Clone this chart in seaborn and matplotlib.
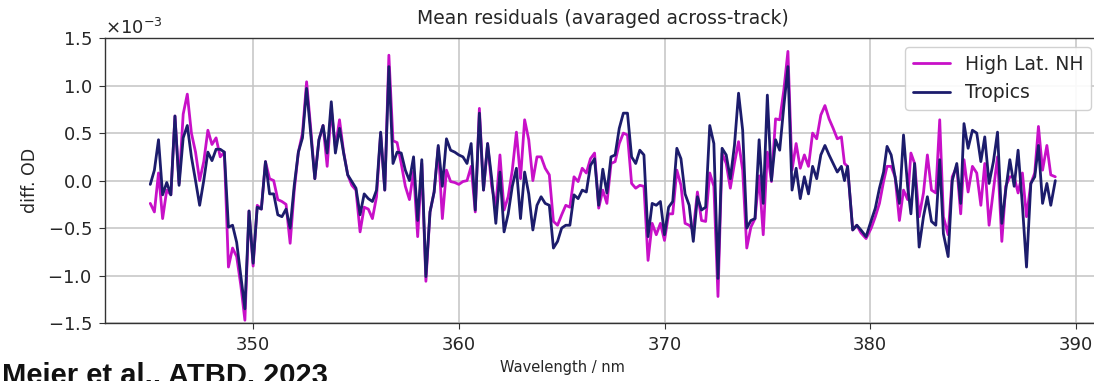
import numpy as np
import pandas as pd
import matplotlib
matplotlib.use("Agg")
import matplotlib.pyplot as plt
import seaborn as sns

# ---------------- data (values in units of 1e-3) ----------------
wavelength = [
    345.0, 345.2, 345.4, 345.6, 345.8, 346.0, 346.2, 346.4, 346.6, 346.8,
    347.0, 347.2, 347.4, 347.6, 347.8, 348.0, 348.2, 348.4, 348.6, 348.8,
    349.0, 349.2, 349.4, 349.6, 349.8, 350.0, 350.2, 350.4, 350.6, 350.8,
    351.0, 351.2, 351.4, 351.6, 351.8, 352.0, 352.2, 352.4, 352.6, 352.8,
    353.0, 353.2, 353.4, 353.6, 353.8, 354.0, 354.2, 354.4, 354.6, 354.8,
    355.0, 355.2, 355.4, 355.6, 355.8, 356.0, 356.2, 356.4, 356.6, 356.8,
    357.0, 357.2, 357.4, 357.6, 357.8, 358.0, 358.2, 358.4, 358.6, 358.8,
    359.0, 359.2, 359.4, 359.6, 359.8, 360.0, 360.2, 360.4, 360.6, 360.8,
    361.0, 361.2, 361.4, 361.6, 361.8, 362.0, 362.2, 362.4, 362.6, 362.8,
    363.0, 363.2, 363.4, 363.6, 363.8, 364.0, 364.2, 364.4, 364.6, 364.8,
    365.0, 365.2, 365.4, 365.6, 365.8, 366.0, 366.2, 366.4, 366.6, 366.8,
    367.0, 367.2, 367.4, 367.6, 367.8, 368.0, 368.2, 368.4, 368.6, 368.8,
    369.0, 369.2, 369.4, 369.6, 369.8, 370.0, 370.2, 370.4, 370.6, 370.8,
    371.0, 371.2, 371.4, 371.6, 371.8, 372.0, 372.2, 372.4, 372.6, 372.8,
    373.0, 373.2, 373.4, 373.6, 373.8, 374.0, 374.2, 374.4, 374.6, 374.8,
    375.0, 375.2, 375.4, 375.6, 375.8, 376.0, 376.2, 376.4, 376.6, 376.8,
    377.0, 377.2, 377.4, 377.6, 377.8, 378.0, 378.2, 378.4, 378.6, 378.75,
    378.9, 379.15, 379.35, 379.55, 379.8, 380.05, 380.25, 380.45, 380.65, 380.82,
    381.02, 381.21, 381.42, 381.62, 381.82, 381.98, 382.16, 382.38, 382.59, 382.78,
    382.98, 383.19, 383.38, 383.56, 383.79, 383.99, 384.21, 384.4, 384.56, 384.76,
    384.97, 385.18, 385.38, 385.57, 385.78, 385.99, 386.19, 386.4, 386.59, 386.79,
    387.0, 387.19, 387.4, 387.6, 387.81, 388.0, 388.18, 388.38, 388.59, 388.78,
    389.0,
]

tropics = [
    -0.04, 0.11, 0.43, -0.15, -0.02, -0.15, 0.68, -0.05, 0.45, 0.58,
    0.25, 0.00, -0.26, 0.00, 0.30, 0.21, 0.33, 0.33, 0.30, -0.49,
    -0.47, -0.65, -1.00, -1.35, -0.32, -0.87, -0.28, -0.30, 0.20, -0.14,
    -0.14, -0.36, -0.38, -0.30, -0.50, -0.05, 0.30, 0.45, 0.97, 0.50,
    0.02, 0.43, 0.58, 0.29, 0.83, 0.29, 0.55, 0.29, 0.06, -0.01,
    -0.08, -0.36, -0.14, -0.19, -0.22, -0.10, 0.51, -0.10, 1.20, 0.18,
    0.30, 0.29, 0.11, 0.00, 0.25, -0.42, 0.22, -1.01, -0.33, -0.12,
    0.37, -0.06, 0.44, 0.32, 0.30, 0.27, 0.25, 0.18, 0.39, -0.31,
    0.71, -0.10, 0.39, 0.02, -0.45, 0.09, -0.54, -0.35, -0.06, 0.13,
    -0.40, 0.09, -0.14, -0.52, -0.26, -0.17, -0.24, -0.26, -0.71, -0.64,
    -0.50, -0.47, -0.47, -0.15, -0.19, -0.10, -0.12, 0.16, 0.23, -0.26,
    0.12, -0.13, 0.25, 0.27, 0.55, 0.71, 0.71, 0.25, 0.18, 0.32,
    0.27, -0.59, -0.24, -0.26, -0.22, -0.57, -0.28, -0.22, 0.34, 0.23,
    -0.14, -0.26, -0.64, -0.17, -0.31, -0.28, 0.58, 0.39, -1.03, 0.34,
    0.27, 0.02, 0.37, 0.92, 0.53, -0.50, -0.42, -0.40, 0.43, -0.24,
    0.90, 0.00, 0.43, 0.32, 0.78, 1.20, -0.10, 0.13, -0.19, 0.04,
    -0.14, 0.15, 0.02, 0.27, 0.37, 0.27, 0.18, 0.09, 0.15, 0.00,
    0.15, -0.52, -0.47, -0.52, -0.59, -0.42, -0.29, -0.08, 0.09, 0.36,
    0.27, 0.04, -0.24, 0.48, -0.06, -0.35, 0.18, -0.70, -0.38, -0.17,
    -0.43, -0.47, 0.22, -0.56, -0.80, 0.00, 0.18, -0.24, 0.60, 0.34,
    0.53, 0.50, 0.20, 0.46, -0.03, 0.20, 0.51, -0.45, -0.10, 0.22,
    -0.06, 0.32, -0.26, -0.91, -0.03, 0.04, 0.37, -0.24, -0.03, -0.26,
    0.00,
]

high_lat_nh = [
    -0.24, -0.33, 0.08, -0.40, -0.10, -0.15, 0.68, -0.03, 0.70, 0.91,
    0.50, 0.30, 0.00, 0.20, 0.53, 0.38, 0.45, 0.25, 0.30, -0.91,
    -0.71, -0.80, -1.10, -1.47, -0.32, -0.90, -0.26, -0.30, 0.20, 0.02,
    0.00, -0.20, -0.22, -0.25, -0.66, -0.10, 0.30, 0.50, 1.04, 0.55,
    0.02, 0.43, 0.58, 0.15, 0.75, 0.35, 0.64, 0.30, 0.06, -0.05,
    -0.10, -0.54, -0.28, -0.30, -0.40, -0.17, 0.50, -0.10, 1.32, 0.42,
    0.40, 0.18, -0.06, -0.20, 0.10, -0.59, 0.18, -1.06, -0.33, -0.12,
    0.35, -0.40, 0.11, -0.01, -0.02, -0.04, -0.01, 0.00, 0.15, -0.33,
    0.76, -0.10, 0.39, -0.06, -0.28, 0.27, -0.31, -0.17, 0.11, 0.51,
    0.02, 0.64, 0.43, 0.00, 0.25, 0.25, 0.13, 0.06, -0.43, -0.47,
    -0.36, -0.26, -0.28, 0.04, -0.01, 0.13, 0.08, 0.23, 0.29, -0.29,
    -0.10, -0.24, 0.18, 0.20, 0.39, 0.50, 0.48, -0.03, -0.08, -0.05,
    -0.06, -0.84, -0.45, -0.57, -0.45, -0.63, -0.35, -0.35, 0.11, -0.05,
    -0.45, -0.47, -0.52, -0.12, -0.42, -0.43, 0.08, -0.06, -1.22, 0.29,
    0.18, -0.08, 0.18, 0.41, 0.11, -0.71, -0.49, -0.40, 0.05, -0.57,
    0.30, -0.01, 0.65, 0.64, 0.95, 1.36, 0.11, 0.39, 0.13, 0.27,
    0.15, 0.50, 0.44, 0.69, 0.79, 0.65, 0.55, 0.44, 0.46, 0.18,
    0.15, -0.52, -0.47, -0.55, -0.61, -0.50, -0.38, -0.24, -0.01, 0.15,
    0.15, 0.04, -0.42, -0.10, -0.20, 0.29, 0.18, -0.38, -0.13, 0.27,
    -0.10, -0.13, 0.64, -0.38, -0.57, 0.04, 0.15, -0.35, 0.22, -0.12,
    0.15, 0.08, -0.26, 0.18, -0.47, -0.10, 0.25, -0.64, -0.06, 0.04,
    0.04, -0.13, 0.08, -0.38, -0.03, 0.08, 0.57, 0.11, 0.37, 0.06,
    0.04,
]

series_names = ["High Lat. NH", "Tropics"]
series_colors = {"High Lat. NH": "#c810c8", "Tropics": "#1c1c6c"}
x_ticks = [350, 360, 370, 380, 390]
y_ticks = [-1.5, -1.0, -0.5, 0.0, 0.5, 1.0, 1.5]
SCALE = 1e-3

df = pd.concat([
    pd.DataFrame({"Wavelength": wavelength, "diff": np.array(high_lat_nh) * SCALE,
                  "region": series_names[0]}),
    pd.DataFrame({"Wavelength": wavelength, "diff": np.array(tropics) * SCALE,
                  "region": series_names[1]}),
], ignore_index=True)

# ---------------- plot ----------------
sns.set_style("ticks")
plt.rcParams["font.family"] = ["DejaVu Sans"]

fig = plt.figure(figsize=(10.94, 3.81), dpi=100)
ax = fig.add_axes([0.096, 0.152, 0.91, 0.748])

sns.lineplot(data=df, x="Wavelength", y="diff", hue="region",
             hue_order=series_names, palette=series_colors,
             estimator=None, sort=False, linewidth=2.0, ax=ax)

ax.set_xlim(342.8, 391.2)
ax.set_ylim(-1.5 * SCALE, 1.5 * SCALE)
ax.set_xticks(x_ticks)
ax.set_yticks([v * SCALE for v in y_ticks])
ax.ticklabel_format(axis="y", style="sci", scilimits=(0, 0), useMathText=True)
ax.yaxis.get_offset_text().set_fontsize(13)
ax.tick_params(axis="both", labelsize=13, direction="out", length=4.5,
               pad=5, color="#333333")
ax.grid(True, color="#c4c4c4", linewidth=1.1)
for sp in ax.spines.values():
    sp.set_color("#333333")
    sp.set_linewidth(1.0)

ax.set_title("Mean residuals (avaraged across-track)", fontsize=13.5, pad=10)
ax.set_ylabel("diff. OD", fontsize=12.5)
ax.yaxis.set_label_coords(-0.066, 0.5)
ax.set_xlabel("Wavelength / nm", fontsize=10.5)
ax.xaxis.set_label_coords(0.459, -0.13)

leg = ax.legend(loc="upper right", fontsize=13.5, frameon=True)
leg.get_frame().set_edgecolor("#cccccc")
leg.get_frame().set_alpha(0.9)

fig.text(0.002, 0.05, "Meier et al., ATBD, 2023", fontsize=21, fontweight="bold",
         family=["Liberation Sans", "DejaVu Sans"], ha="left", va="top", color="#111111")

fig.savefig("out.png", dpi=100)
